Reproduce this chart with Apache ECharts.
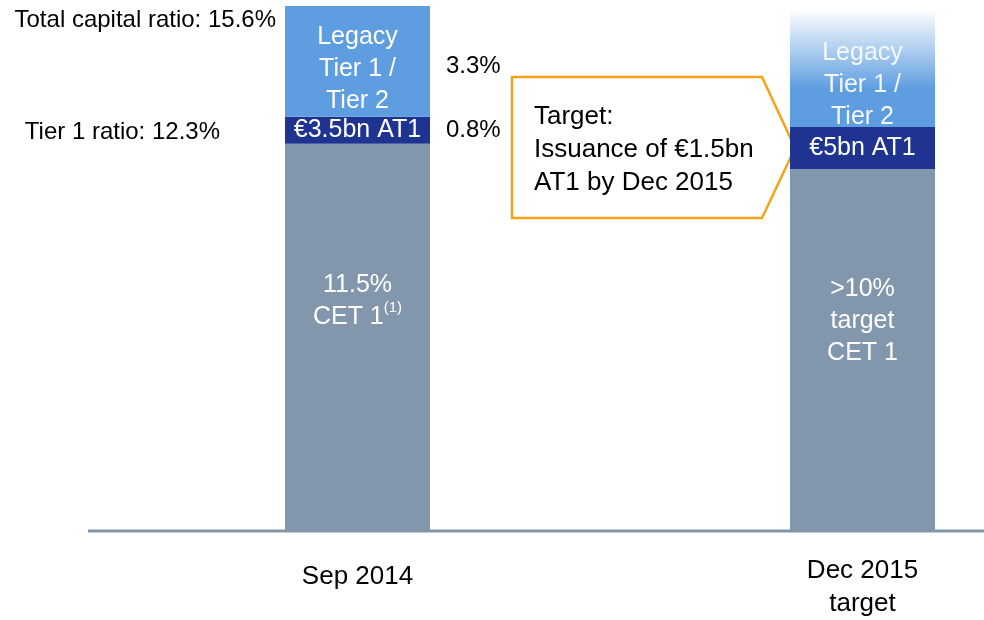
<!DOCTYPE html>
<html>
<head>
<meta charset="utf-8">
<script src="https://cdn.jsdelivr.net/npm/echarts@6/dist/echarts.min.js"></script>
<style>
  html, body { margin: 0; padding: 0; background: #fff; }
  #chart { width: 984px; height: 620px; }
</style>
</head>
<body>
<div id="chart"></div>
<script>
// capital structure, % of RWA
const categories = ['Sep 2014', 'Dec 2015\ntarget'];
const cet1 = [11.5, 10.75];
const at1 = [0.8, 1.25];
const legacy = [3.3, 3.5];
const cet1Text = ['11.5%\nCET 1{sup|(1)}', '>10%\ntarget\nCET 1'];
const at1Text = ['€3.5bn AT1', '€5bn AT1'];
const legacyText = 'Legacy\nTier 1 /\nTier 2';
const calloutText = 'Target:\nIssuance of €1.5bn\nAT1 by Dec 2015';

const FONT = '"Liberation Sans", Arial, sans-serif';
const BAR_W = 145;
const C_CET = '#8297ab';
const C_AT1 = '#1e3490';
const C_LEG = '#5e9de0';

let chart = echarts.init(document.getElementById('chart'), null, {renderer: 'canvas'});

let cetOffsets = [[0, -36], [0, -28]];
let legOffsets = [[0, 8], [0, 17]];
let catPad = [[6, 0, 0, 0], [0, 0, 0, 0]];

let option = {
	animation: false,
	textStyle: {fontFamily: FONT},
	// wide grid so the two category slots sit where the bars are
	grid: {left: 105, right: -131, top: 6, bottom: 90, outerBoundsMode: 'none', containLabel: false},
	xAxis: {
		type: 'category',
		data: categories.map((c, i) => ({value: c, textStyle: {padding: catPad[i]}})),
		axisTick: {show: false},
		axisLine: {show: false},
		axisLabel: {
			color: '#000',
			fontFamily: FONT,
			fontSize: 26,
			lineHeight: 33,
			verticalAlign: 'top',
			margin: 24
		}
	},
	yAxis: {
		type: 'value',
		min: 0,
		max: 15.6,
		show: false
	},
	series: [
		{
			name: 'CET 1',
			type: 'bar',
			stack: 'cap',
			barWidth: BAR_W,
			itemStyle: {color: C_CET},
			data: cet1.map((v, i) => ({
				value: v,
				label: {
					show: true,
					position: 'inside',
					offset: cetOffsets[i],
					formatter: cet1Text[i],
					color: '#fff',
					fontFamily: FONT,
					fontSize: 25,
					lineHeight: 32,
					rich: {
						sup: {fontSize: 15, color: '#fff', fontFamily: FONT, verticalAlign: 'top', lineHeight: 32, padding: [0, 0, 8, 0]}
					}
				}
			}))
		},
		{
			name: 'AT1',
			type: 'bar',
			stack: 'cap',
			barWidth: BAR_W,
			itemStyle: {color: C_AT1},
			data: at1.map((v, i) => ({
				value: v,
				label: {
					show: true,
					position: 'inside',
					formatter: at1Text[i],
					color: '#fff',
					fontFamily: FONT,
					fontSize: 25
				}
			}))
		},
		{
			name: 'Legacy',
			type: 'bar',
			stack: 'cap',
			barWidth: BAR_W,
			data: legacy.map((v, i) => ({
				value: v,
				itemStyle: {
					color: i === 0 ? C_LEG : new echarts.graphic.LinearGradient(0, 0, 0, 1, [
						{offset: 0, color: '#ffffff'},
						{offset: 0.68, color: C_LEG},
						{offset: 1, color: C_LEG}
					])
				},
				label: {
					show: true,
					position: 'inside',
					offset: legOffsets[i],
					formatter: legacyText,
					color: i === 0 ? '#fff' : '#f4f8fc',
					fontFamily: FONT,
					fontSize: 25,
					lineHeight: 32
				}
			}))
		}
	]
};

chart.setOption(option);

// annotations placed from the data through the chart's own scales
function addNotes(){
	let px = (i, y) => chart.convertToPixel({gridIndex: 0}, [i, y]);
	let tier1 = cet1[0] + at1[0];
	let total = tier1 + legacy[0];
	let bar0 = px(0, 0)[0];
	let bar1 = px(1, 0)[0];
	let y0 = px(0, 0)[1];
	let half = BAR_W / 2;

	let yTotal = px(0, total)[1];
	let yTier1 = px(0, tier1)[1];
	let yLegMid = px(0, tier1 + legacy[0] / 2)[1];
	let yAt1Mid = px(0, cet1[0] + at1[0] / 2)[1];

	let txt = (x, y, text, align, vAlign) => ({
		type: 'text',
		x: x, y: y,
		style: {text: text, fill: '#000', font: '24px ' + FONT, align: align, verticalAlign: vAlign}
	});

	// callout arrow pointing at the AT1 block of the target bar
	let tipX = bar1 - half + 5;
	let tipY = px(1, cet1[1] + at1[1] / 2)[1];
	let left = tipX - 283, rightTop = tipX - 33, top = tipY - 71, bottom = tipY + 70;

	chart.setOption({
		graphic: [
			{
				type: 'line',
				shape: {x1: 88, y1: y0 + 1, x2: chart.getWidth(), y2: y0 + 1},
				style: {stroke: C_CET, lineWidth: 3}
			},
			txt(bar0 - half - 9, yTotal + 2, 'Total capital ratio: ' + total.toFixed(1) + '%', 'right', 'top'),
			txt(bar0 - half - 65, yTier1 + 4, 'Tier 1 ratio: ' + tier1.toFixed(1) + '%', 'right', 'top'),
			txt(bar0 + half + 16, yLegMid + 5, legacy[0].toFixed(1) + '%', 'left', 'middle'),
			txt(bar0 + half + 16, yAt1Mid, at1[0].toFixed(1) + '%', 'left', 'middle'),
			{
				type: 'polygon',
				shape: {points: [[left, top], [rightTop, top], [tipX, tipY], [rightTop, bottom], [left, bottom]]},
				style: {fill: '#fff', stroke: '#f5a21b', lineWidth: 2.5}
			},
			{
				type: 'text',
				x: left + 22,
				y: tipY + 2,
				style: {text: calloutText, fill: '#000', font: '26px ' + FONT, lineHeight: 33, align: 'left', verticalAlign: 'middle'}
			}
		]
	});
}
addNotes();
</script>
</body>
</html>
